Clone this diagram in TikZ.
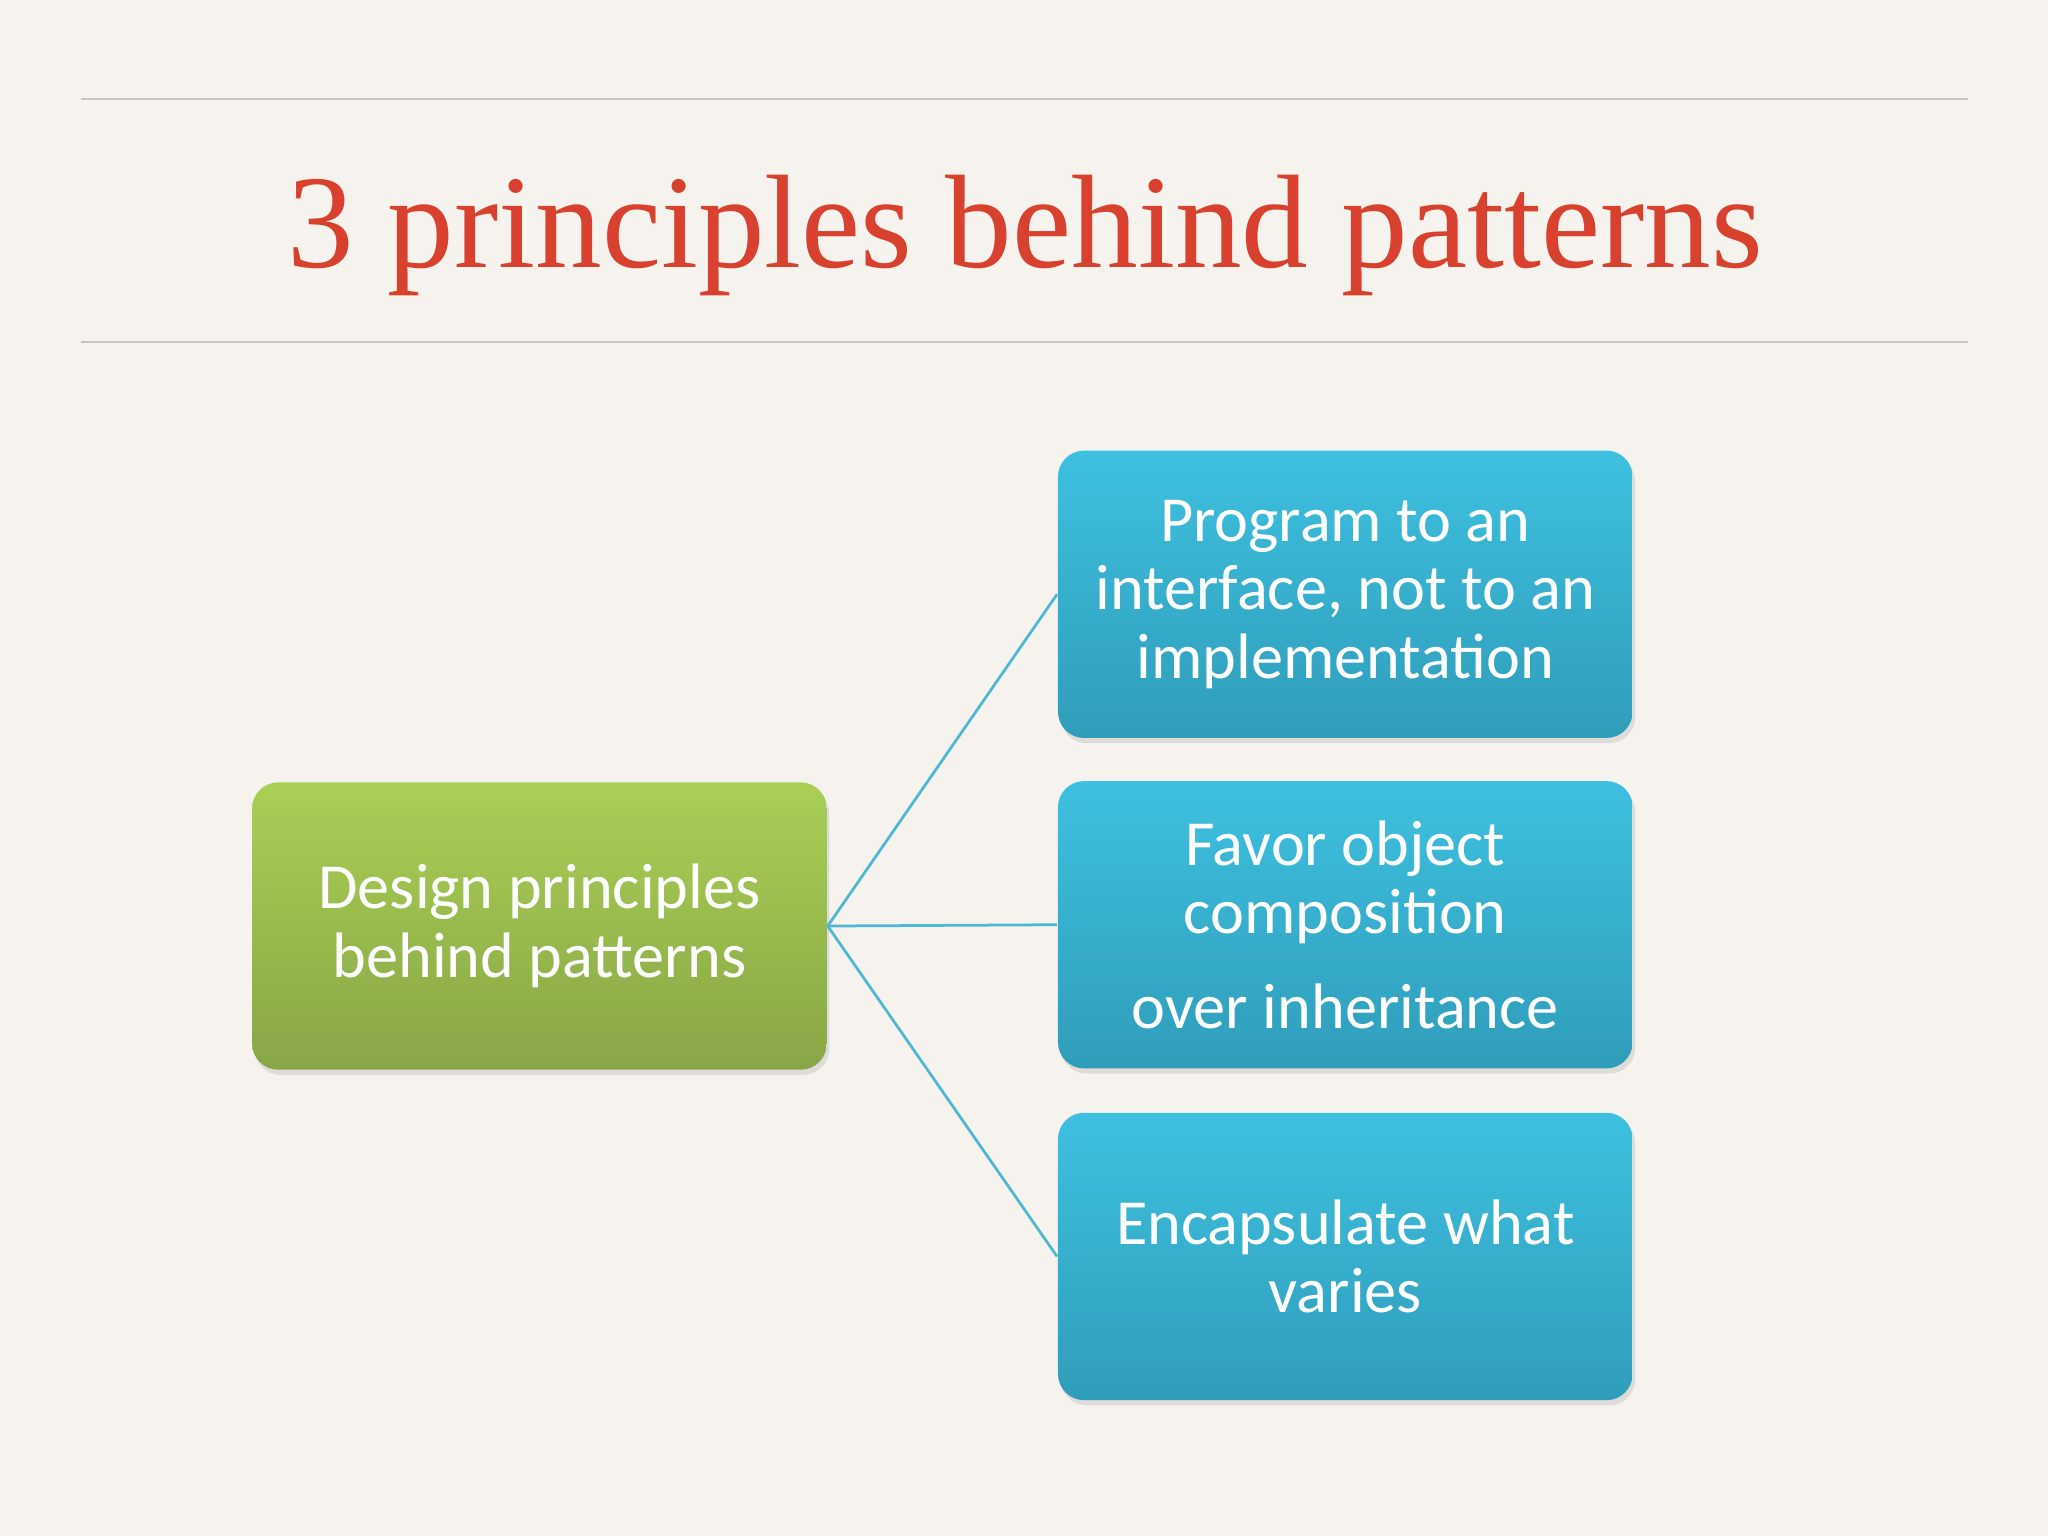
\documentclass[tikz,border=0pt]{standalone}
\usepackage{fontspec}
\setmainfont{Carlito}
\newfontfamily\titlefont{Liberation Serif}
\usetikzlibrary{positioning,shadows}
\definecolor{bgcream}{HTML}{F6F3EE}
\definecolor{rulegray}{HTML}{C8C4BE}
\definecolor{titlered}{HTML}{D9412F}
\definecolor{greentop}{HTML}{A9CF55}
\definecolor{greenbot}{HTML}{88A646}
\definecolor{bluetop}{HTML}{3EC0E0}
\definecolor{bluebot}{HTML}{2F9DBA}
\definecolor{linkblue}{HTML}{4DB8D6}
\tikzset{
  principle/.style={rounded corners=0.2cm, minimum width=4.4cm, minimum height=2.2cm,
    align=center, text=white, font=\fontsize{14}{14.9}\selectfont,
    drop shadow={opacity=0.2, shadow xshift=0.02cm, shadow yshift=-0.04cm}},
  bluebox/.style={principle, top color=bluetop, bottom color=bluebot},
  greenbox/.style={principle, top color=greentop, bottom color=greenbot},
  link/.style={draw=linkblue, line width=0.6pt}
}
\begin{document}
\begin{tikzpicture}
  % 背景
  \fill[bgcream] (0,0) rectangle (15.68,-11.76);
  \useasboundingbox (0,0) rectangle (15.68,-11.76);

  % 見出し
  \draw[rulegray, line width=0.5pt] (0.62,-0.76) -- (15.07,-0.76);
  \draw[rulegray, line width=0.5pt] (0.62,-2.62) -- (15.07,-2.62);
  \node[text=titlered, font=\titlefont\fontsize{29}{34}\selectfont] (title) at (7.85,-1.80) {3 principles behind patterns};

  % ボックス
  \node[greenbox] (design) at (4.13,-7.09) {Design principles\\behind patterns};
  \node[bluebox] (program) at (10.30,-4.55) {Program to an\\interface, not to an\\implementation};
  \node[bluebox] (favor) at (10.30,-7.08) {Favor object\\composition\\[0.2cm]over inheritance};
  \node[bluebox] (encap) at (10.30,-9.62) {Encapsulate what\\varies};

  % 接続線
  \draw[link] (design.east) -- (program.west);
  \draw[link] (design.east) -- (favor.west);
  \draw[link] (design.east) -- (encap.west);
\end{tikzpicture}
\end{document}
